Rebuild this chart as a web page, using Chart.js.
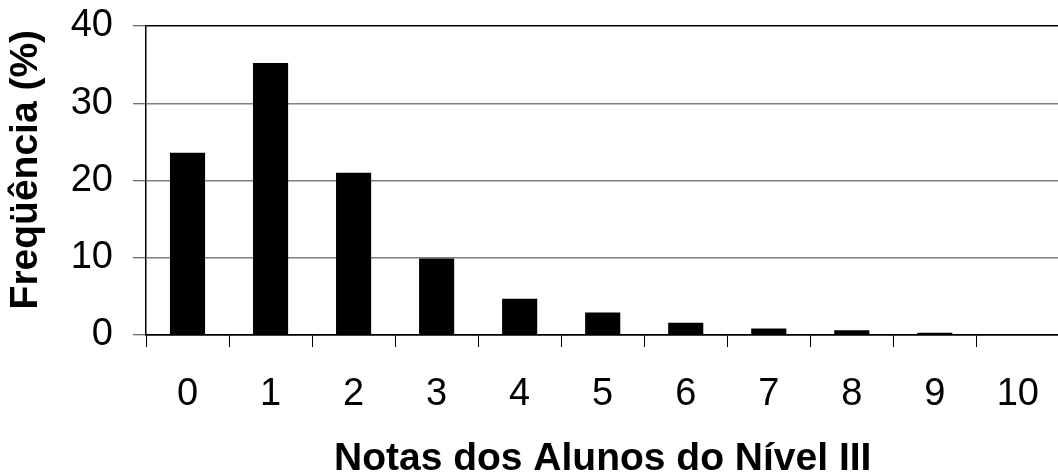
<!DOCTYPE html>
<html>
<head>
<meta charset="utf-8">
<script src="https://cdn.jsdelivr.net/npm/chart.js@4/dist/chart.umd.min.js"></script>
<style>
  html, body { margin: 0; padding: 0; background: #fff; overflow: hidden; }
  #wrap { width: 1064px; height: 474px; }
</style>
</head>
<body>
<div id="wrap"><canvas id="c" width="1064" height="474"></canvas></div>
<script>
const categories = ['0', '1', '2', '3', '4', '5', '6', '7', '8', '9', '10'];
const frequencies = [23.6, 35.2, 21.0, 9.9, 4.7, 2.9, 1.6, 0.85, 0.6, 0.3, 0];
const yTicks = [0, 10, 20, 30, 40];
const xTitle = 'Notas dos Alunos do Nível III';
const yTitle = 'Freqüência (%)';

const FONT = '"Liberation Sans", Arial, sans-serif';

new Chart(document.getElementById('c'), {
  type: 'bar',
  data: {
    labels: categories,
    datasets: [{
      data: frequencies,
      backgroundColor: '#000000',
      borderWidth: 0,
      categoryPercentage: 1.0,
      barPercentage: 0.423
    }]
  },
  options: {
    responsive: false,
    animation: false,
    devicePixelRatio: 1,
    layout: { padding: { top: 26, right: 0, bottom: 0, left: 0 } },
    plugins: { legend: { display: false }, tooltip: { enabled: false } },
    scales: {
      x: {
        afterFit: (s) => { s.height = 139; },
        grid: {
          offset: true,
          drawOnChartArea: false,
          drawTicks: true,
          tickLength: 12,
          tickColor: '#000000',
          tickWidth: 1
        },
        border: { color: '#000000', width: 1.5 },
        ticks: {
          font: { family: FONT, size: 38 },
          color: '#000000',
          padding: 25,
          maxRotation: 0,
          autoSkip: false
        },
        title: {
          display: true,
          text: xTitle,
          font: { family: FONT, size: 39, weight: 'bold', lineHeight: 1 },
          color: '#000000',
          padding: { top: 0, bottom: -5 }
        }
      },
      y: {
        min: 0,
        max: 40,
        afterFit: (s) => { s.width = 146; s.paddingTop = 0; s.paddingBottom = 0; },
        afterBuildTicks: (s) => { s.ticks = yTicks.map(v => ({ value: v })); },
        grid: {
          color: (ctx) => (ctx.tick && ctx.tick.value === 40) ? '#000000' : (ctx.tick && ctx.tick.value === 0 ? '#000000' : '#808080'),
          lineWidth: 1.5,
          tickLength: 13,
          tickColor: '#404040',
          tickWidth: 1
        },
        border: { color: '#000000', width: 1.5 },
        ticks: {
          font: { family: FONT, size: 38 },
          color: '#000000',
          padding: 20
        },
        title: {
          display: true,
          text: '  ' + yTitle,
          font: { family: FONT, size: 39, weight: 'bold' },
          color: '#000000',
          padding: { top: 3, bottom: 0 }
        }
      }
    }
  }
});
</script>
</body>
</html>
